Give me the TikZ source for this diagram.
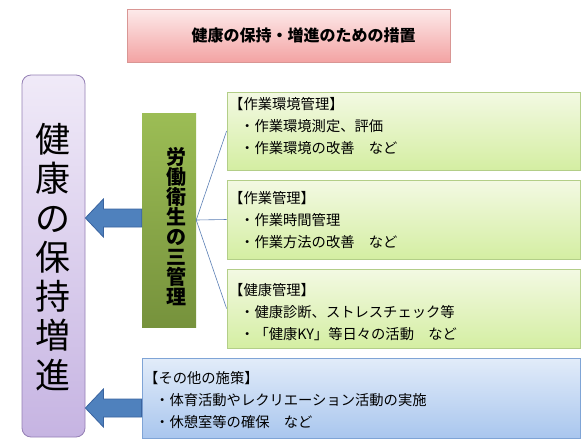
\documentclass[tikz,border=0pt]{standalone}
\usepackage{fontspec}
\setmainfont{Noto Sans CJK JP}
\usetikzlibrary{calc}
\definecolor{titletop}{HTML}{FDEAEA}
\definecolor{titlebot}{HTML}{F3A3A3}
\definecolor{titleline}{HTML}{D99694}
\definecolor{purtop}{HTML}{F0EAF8}
\definecolor{purbot}{HTML}{C6B4E2}
\definecolor{purline}{HTML}{9580B5}
\definecolor{grntop}{HTML}{9CBD55}
\definecolor{grnbot}{HTML}{76923C}
\definecolor{ltgtop}{HTML}{F3F9E3}
\definecolor{ltgbot}{HTML}{D4EEA2}
\definecolor{ltgline}{HTML}{B3CE88}
\definecolor{blutop}{HTML}{E2ECF9}
\definecolor{blubot}{HTML}{A9C6EE}
\definecolor{bluline}{HTML}{7FA4D6}
\definecolor{arrowfill}{HTML}{4F81BD}
\definecolor{arrowline}{HTML}{3A64A0}
\definecolor{linkc}{HTML}{5B7FB5}
\tikzset{
  titlebox/.style={draw=titleline, line width=0.8pt, top color=titletop, bottom color=titlebot},
  purbox/.style={draw=purline, line width=0.8pt, rounded corners=9pt, top color=purtop, bottom color=purbot},
  grnbox/.style={top color=grntop, bottom color=grnbot},
  ltgbox/.style={draw=ltgline, line width=0.8pt, top color=ltgtop, bottom color=ltgbot},
  blubox/.style={draw=bluline, line width=0.8pt, top color=blutop, bottom color=blubot},
  itemtext/.style={anchor=west, align=left, inner sep=0pt, font=\fontsize{14.3}{22}\selectfont},
  bigarrow/.style={fill=arrowfill, draw=arrowline, line width=0.8pt, line join=miter},
  link/.style={draw=linkc, line width=0.6pt}
}
\begin{document}
\begin{tikzpicture}[x=1pt,y=-1pt]
\useasboundingbox (0,0) rectangle (587,445);
\fill[white] (0,0) rectangle (587,445);

% title
\node[titlebox, inner sep=0pt, minimum width=323pt, minimum height=53pt,
      font=\bfseries\fontsize{16}{19}\selectfont] (title) at (288.5,35.5)
      {\hspace*{30pt}健康の保持・増進のための措置};

% left purple box
\node[purbox, inner sep=0pt, minimum width=63pt, minimum height=362pt] (purple) at (53.5,256) {};
\node[align=center, inner sep=0pt, font=\fontsize{35}{39.3}\selectfont] (purtext) at (53,257)
  {健\\康\\の\\保\\持\\増\\進};

% green vertical box
\node[grnbox, inner sep=0pt, minimum width=54pt, minimum height=214pt] (green) at (169,220) {};
\node[align=center, inner sep=0pt, font=\bfseries\fontsize{20}{20}\selectfont] (grntext) at (176,227)
  {労\\働\\衛\\生\\の\\三\\管\\理};

% right boxes
\node[ltgbox, inner sep=0pt, minimum width=353pt, minimum height=78pt] (box1) at (403.5,131) {};
\node[ltgbox, inner sep=0pt, minimum width=353pt, minimum height=79pt] (box2) at (403.5,219.5) {};
\node[ltgbox, inner sep=0pt, minimum width=353pt, minimum height=79pt] (box3) at (403.5,308.5) {};
\node[blubox, inner sep=0pt, minimum width=438pt, minimum height=80pt] (blue) at (361,398) {};

\node[itemtext] (t1) at (229,126) {【作業環境管理】\\\hspace*{11pt}・作業環境測定、評価\\\hspace*{11pt}・作業環境の改善　など};
\node[itemtext] (t2) at (229,220) {【作業管理】\\\hspace*{11pt}・作業時間管理\\\hspace*{11pt}・作業方法の改善　など};
\node[itemtext] (t3) at (229,312) {【健康管理】\\\hspace*{11pt}・健康診断、ストレスチェック等\\\hspace*{11pt}・「健康KY」等日々の活動　など};
\node[itemtext] (t4) at (144,400) {【その他の施策】\\\hspace*{11pt}・体育活動やレクリエーション活動の実施\\\hspace*{11pt}・休憩室等の確保　など};

% connectors
\draw[link] (green.east) -- (box1.west);
\draw[link] (green.east) -- (box2.west);
\draw[link] (green.east) -- (box3.west);

% block arrows
\coordinate (a1) at ([yshift=2pt]green.west);
\draw[bigarrow] (purple.east |- a1) -- ++(18,-19) -- ++(0,10) -- ([yshift=9pt]a1) -- ([yshift=-9pt]a1)
  -- ([shift={(18,9)}]purple.east |- a1) -- ++(0,10) -- cycle;
\coordinate (a2) at ([yshift=-10pt]blue.west);
\draw[bigarrow] (purple.east |- a2) -- ++(18,-19) -- ++(0,10) -- ([yshift=9pt]a2) -- ([yshift=-9pt]a2)
  -- ([shift={(18,9)}]purple.east |- a2) -- ++(0,10) -- cycle;
\end{tikzpicture}
\end{document}
